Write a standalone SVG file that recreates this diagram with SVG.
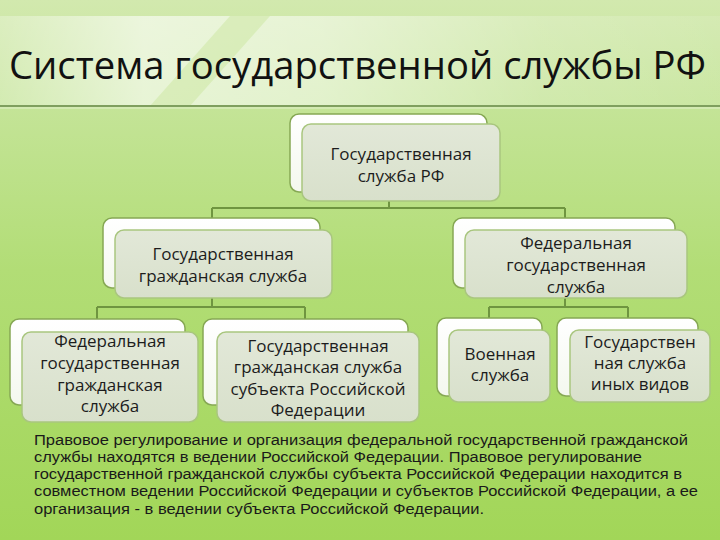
<svg xmlns="http://www.w3.org/2000/svg" width="720" height="540" viewBox="0 0 720 540">
<defs>
<linearGradient id="bg" x1="0" y1="0" x2="0" y2="1">
<stop offset="0" stop-color="#d2e9ae"/>
<stop offset="0.2" stop-color="#c4e497"/>
<stop offset="0.5" stop-color="#b2dd76"/>
<stop offset="1" stop-color="#a2d658"/>
</linearGradient>
<linearGradient id="band" x1="0" y1="0" x2="1" y2="0">
<stop offset="0" stop-color="#ffffff" stop-opacity="0.25"/>
<stop offset="0.2" stop-color="#ffffff" stop-opacity="0.6"/>
<stop offset="0.45" stop-color="#ffffff" stop-opacity="0.5"/>
<stop offset="0.75" stop-color="#ffffff" stop-opacity="0.2"/>
<stop offset="1" stop-color="#ffffff" stop-opacity="0.1"/>
</linearGradient>
<linearGradient id="backg" x1="0" y1="0" x2="0" y2="1">
<stop offset="0" stop-color="#ffffff"/>
<stop offset="1" stop-color="#f4f8ee"/>
</linearGradient>
<linearGradient id="frontg" x1="0" y1="0" x2="0" y2="1">
<stop offset="0" stop-color="#e2e8d8"/>
<stop offset="1" stop-color="#d8e0cb"/>
</linearGradient>
</defs>
<style>
.back{fill:url(#backg);stroke:#86a854;stroke-width:1.5}
.front{fill:url(#frontg);stroke:#a9c67f;stroke-width:1.5}
.t{font-family:"Open Sans","Noto Sans","Liberation Sans",sans-serif;font-size:17px;fill:#1c1c1c;text-anchor:middle}
.p{font-family:"Liberation Sans","Open Sans",sans-serif;font-size:14px;fill:#1a1a1a}
.conn{fill:none;stroke:#6f9540;stroke-width:2}
</style>
<rect x="0" y="0" width="720" height="540" fill="url(#bg)"/>
<rect x="0" y="16" width="720" height="90" fill="url(#band)"/>
<path d="M150 106 L230 16 L270 16 L190 106 Z" fill="#c8e59a" opacity="0.45"/>
<line x1="0" y1="106" x2="720" y2="106" stroke="#7f9f5e" stroke-width="2"/>
<line x1="0" y1="108" x2="720" y2="108" stroke="#e2f0cc" stroke-width="1"/>
<text x="9" y="79" font-family="'Open Sans','Noto Sans','Liberation Sans',sans-serif" font-size="38" fill="#111" textLength="697" lengthAdjust="spacingAndGlyphs">Система государственной службы РФ</text>

<g id="connectors">
<path class="conn" d="M389 200 V208 M212 208 H565 M212 208 V219 M565 208 V219"/>
<path class="conn" d="M212 297 V307 M97 307 H305 M97 307 V320 M305 307 V320"/>
<path class="conn" d="M565 297 V307 M489 307 H628 M489 307 V319 M628 307 V319"/>
</g>

<g id="node-top">
<rect class="back" x="290" y="114" width="197" height="78" rx="9"/>
<rect class="front" x="302" y="124" width="198" height="77" rx="9"/>
<text class="t" x="401" y="160">Государственная</text>
<text class="t" x="401" y="182">служба РФ</text>
</g>

<g id="node-civil">
<rect class="back" x="103" y="218" width="217" height="70" rx="9"/>
<rect class="front" x="115" y="230" width="217" height="68" rx="9"/>
<text class="t" x="223" y="260">Государственная</text>
<text class="t" x="223" y="282">гражданская служба</text>
</g>

<g id="node-federal">
<rect class="back" x="453" y="218" width="222" height="70" rx="9"/>
<rect class="front" x="465" y="230" width="222" height="68" rx="9"/>
<text class="t" x="576" y="249">Федеральная</text>
<text class="t" x="576" y="271">государственная</text>
<text class="t" x="576" y="293">служба</text>
</g>

<g id="node-fed-civil">
<rect class="back" x="10" y="319" width="175" height="86" rx="9"/>
<rect class="front" x="22" y="332" width="176" height="90" rx="9"/>
<text class="t" x="110" y="347">Федеральная</text>
<text class="t" x="110" y="369">государственная</text>
<text class="t" x="110" y="391">гражданская</text>
<text class="t" x="110" y="412">служба</text>
</g>

<g id="node-subject-civil">
<rect class="back" x="203" y="319" width="205" height="86" rx="9"/>
<rect class="front" x="217" y="332" width="202" height="90" rx="9"/>
<text class="t" x="318" y="352">Государственная</text>
<text class="t" x="318" y="373">гражданская служба</text>
<text class="t" x="318" y="395">субъекта Российской</text>
<text class="t" x="318" y="416">Федерации</text>
</g>

<g id="node-military">
<rect class="back" x="437" y="318" width="105" height="78" rx="9"/>
<rect class="front" x="449" y="330" width="101" height="72" rx="9"/>
<text class="t" x="500" y="360">Военная</text>
<text class="t" x="500" y="381">служба</text>
</g>

<g id="node-other">
<rect class="back" x="557" y="318" width="141" height="78" rx="9"/>
<rect class="front" x="570" y="330" width="140" height="72" rx="9"/>
<text class="t" x="640" y="348">Государствен</text>
<text class="t" x="640" y="369">ная служба</text>
<text class="t" x="640" y="390">иных видов</text>
</g>

<g id="caption">
<text class="p" x="34" y="445" textLength="654" lengthAdjust="spacingAndGlyphs">Правовое регулирование и организация федеральной государственной гражданской</text>
<text class="p" x="34" y="462" textLength="608" lengthAdjust="spacingAndGlyphs">службы находятся в ведении Российской Федерации. Правовое регулирование</text>
<text class="p" x="34" y="479" textLength="648" lengthAdjust="spacingAndGlyphs">государственной гражданской службы субъекта Российской Федерации находится в</text>
<text class="p" x="34" y="496" textLength="664" lengthAdjust="spacingAndGlyphs">совместном ведении Российской Федерации и субъектов Российской Федерации, а ее</text>
<text class="p" x="34" y="514" textLength="450" lengthAdjust="spacingAndGlyphs">организация - в ведении субъекта Российской Федерации.</text>
</g>
</svg>
